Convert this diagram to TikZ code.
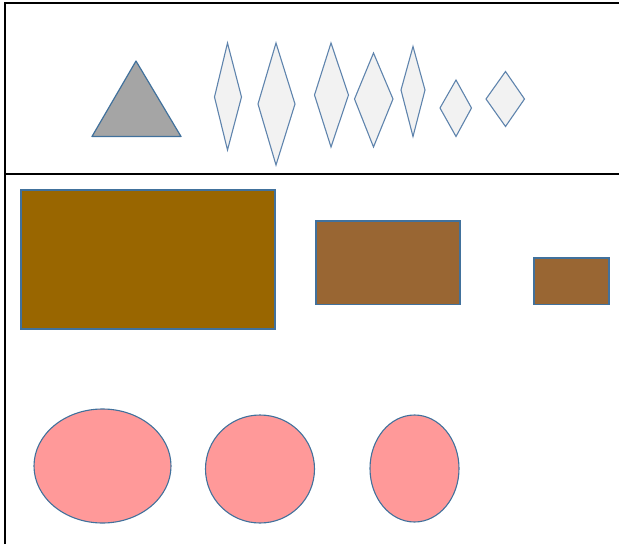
\documentclass[tikz,border=0pt]{standalone}
\usetikzlibrary{shapes.geometric}
\definecolor{edgeblue}{HTML}{41719C}
\definecolor{diaedge}{HTML}{5F84AD}
\definecolor{trifill}{HTML}{A5A5A5}
\definecolor{diafill}{HTML}{F2F2F2}
\definecolor{rectA}{HTML}{996600}
\definecolor{rectB}{HTML}{996633}
\definecolor{pinkfill}{HTML}{FF9999}
\tikzset{
  border/.style={black, line width=2pt},
  tri/.style={draw=edgeblue, fill=trifill, line width=1.2pt, line join=round},
  dia/.style={draw=diaedge, fill=diafill, line width=1.1pt, line join=miter},
  boxA/.style={draw=edgeblue, fill=rectA, line width=1.2pt},
  boxB/.style={draw=edgeblue, fill=rectB, line width=1.2pt},
  oval/.style={draw=edgeblue, fill=pinkfill, line width=1.1pt},
}
\begin{document}
\begin{tikzpicture}[x=1pt, y=-1pt]
\useasboundingbox (0,0) rectangle (619,544);
% frame
\draw[border] (4.5,544) -- (4.5,2.5) -- (619,2.5);
\draw[border] (4.5,173.5) -- (619,173.5);
% triangle
\draw[tri] (136,61) -- (181,136.5) -- (92,136.5) -- cycle;
% diamonds: cx, top, bottom, left, right, midy
\foreach \cx/\t/\b/\l/\r/\m in {
  227.5/43/150/214.5/241.5/97,
  276/43/165/258/295/104,
  331/43/147/314.5/348.5/95,
  373.5/53/147/354.5/393/99,
  413/46.5/136.5/401/425/90,
  456/80/136.5/440/471.5/108,
  505.5/71.5/126.5/486/524.5/99} {
  \draw[dia] (\cx,\t) -- (\r,\m) -- (\cx,\b) -- (\l,\m) -- cycle;
}
% rectangles
\draw[boxA] (21,190) rectangle (275,329);
\draw[boxB] (316,221) rectangle (460,304.5);
\draw[boxB] (534,258) rectangle (609,304.5);
% ellipses
\draw[oval] (102.5,466) ellipse [x radius=68.5, y radius=57];
\draw[oval] (260,469) ellipse [x radius=54.5, y radius=54];
\draw[oval] (414.5,468.5) ellipse [x radius=44.5, y radius=53.5];
\end{tikzpicture}
\end{document}
